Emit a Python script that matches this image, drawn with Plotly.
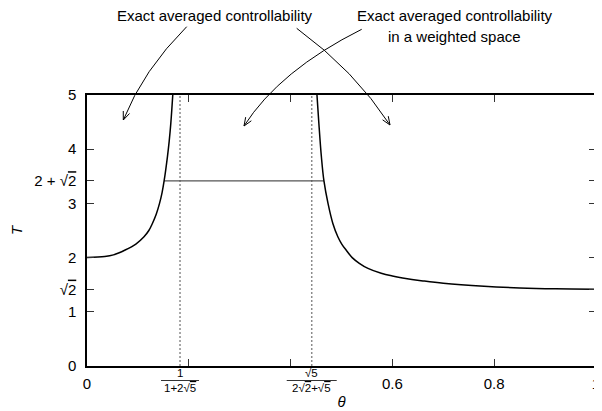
import math
import plotly.graph_objects as go

# ---------------- data ----------------
theta_left = [0.0, 0.035, 0.052, 0.075, 0.096, 0.112, 0.1215, 0.1285, 0.136,
              0.1425, 0.1475, 0.1515, 0.158, 0.1615, 0.1647, 0.1685]
T_left = [2.0, 2.02, 2.05, 2.14, 2.25, 2.385, 2.5, 2.63, 2.8,
          3.0, 3.2, 3.414, 3.86, 4.15, 4.48, 5.0]

theta_right = [0.4518, 0.4555, 0.4605, 0.4655, 0.4735, 0.483, 0.4928, 0.5005, 0.509,
               0.521, 0.535, 0.552, 0.578, 0.60, 0.62, 0.66, 0.70, 0.78, 0.85, 0.92, 1.0]
T_right = [5.0, 4.48, 3.86, 3.414, 3.0, 2.63, 2.385, 2.25, 2.14,
           2.0, 1.895, 1.80, 1.71, 1.66, 1.625, 1.57, 1.525, 1.47, 1.44, 1.423, 1.414]

SQ2 = math.sqrt(2)
SQ5 = math.sqrt(5)
theta_c1 = 1 / (1 + 2 * SQ5)
theta_c2 = SQ5 / (2 * SQ2 + SQ5)

plateau_theta = [0.1515, 0.4655]
plateau_T = [2 + SQ2, 2 + SQ2]

x_tickvals = [0, 0.2, 0.4, 0.6, 0.8, 1]
x_ticktext = ["0", "", "", "0.6", "0.8", "1"]
OL = '<span style="text-decoration:overline">{}</span>'
y_tickvals = [0, 1, SQ2, 2, 3, 2 + SQ2, 4, 5]
y_ticktext = ["0", "1", "√" + OL.format("2"), "2", "3", "2 + √" + OL.format("2"), "4", "5"]

label_left = "Exact averaged controllability"
label_right = ["Exact averaged controllability", "in a weighted space"]

# ---------------- layout geometry ----------------
# the page body has an 8px margin, so figure coords = window coords - 8
OFF = 8
W, H = 602 - OFF, 411 - OFF
X0, X1, Y0, Y1 = 87, 596, 95, 366          # plot box in window pixels
L, R, TOP, B = X0 - OFF, W - (X1 - OFF), Y0 - OFF, H - (Y1 - OFF)
PW, PH = X1 - X0, Y1 - Y0
FONT = "Liberation Sans"


def px(x):
    return (x - X0) / PW


def py(y):
    return (Y1 - y) / PH


fig = go.Figure()

# dotted critical lines
for c in (theta_c1, theta_c2):
    fig.add_trace(go.Scatter(x=[c, c], y=[0, 5], mode="lines",
                             line=dict(color="#8c8c8c", width=1.5, dash="2px,2px"),
                             hoverinfo="skip"))

# plateau
fig.add_trace(go.Scatter(x=plateau_theta, y=plateau_T, mode="lines",
                         line=dict(color="#555555", width=1.3)))

# curves
fig.add_trace(go.Scatter(x=theta_left, y=T_left, mode="lines",
                         line=dict(color="black", width=1.5, shape="spline", smoothing=1)))
fig.add_trace(go.Scatter(x=theta_right, y=T_right, mode="lines",
                         line=dict(color="black", width=1.5, shape="spline", smoothing=1)))

shapes = []
annotations = []


# fraction tick labels
def fraction(xc, num, den, half_w):
    annotations.append(dict(x=xc, y=py(373.0), xref="paper", yref="paper", text=num,
                            showarrow=False, font=dict(family=FONT, size=11.5, color="black"),
                            xanchor="center", yanchor="middle"))
    annotations.append(dict(x=xc, y=py(388.0), xref="paper", yref="paper", text=den,
                            showarrow=False, font=dict(family=FONT, size=11.5, color="black"),
                            xanchor="center", yanchor="middle"))
    shapes.append(dict(type="line", xref="paper", yref="paper",
                       x0=xc - half_w / PW, x1=xc + half_w / PW, y0=py(380.5), y1=py(380.5),
                       line=dict(color="black", width=0.8)))


fraction(theta_c1, "1", "1+2√" + OL.format("5"), 19)
fraction(theta_c2, "√" + OL.format("5"), "2√" + OL.format("2") + "+√" + OL.format("5"), 25)

# top labels
annotations.append(dict(x=px(215), y=py(15), xref="paper", yref="paper", text=label_left,
                        showarrow=False, font=dict(family=FONT, size=15, color="black"),
                        xanchor="center", yanchor="middle"))
annotations.append(dict(x=px(455), y=py(15), xref="paper", yref="paper", text=label_right[0],
                        showarrow=False, font=dict(family=FONT, size=15, color="black"),
                        xanchor="center", yanchor="middle"))
annotations.append(dict(x=px(454), y=py(36.5), xref="paper", yref="paper", text=label_right[1],
                        showarrow=False, font=dict(family=FONT, size=15, color="black"),
                        xanchor="center", yanchor="middle"))


# curved arrows (pixel geometry -> paper)
def curved_arrow(p0, c, p1, head=9.0, ang=22):
    path = "M {} {} Q {} {} {} {}".format(px(p0[0]), py(p0[1]), px(c[0]), py(c[1]),
                                         px(p1[0]), py(p1[1]))
    shapes.append(dict(type="path", xref="paper", yref="paper", path=path,
                       line=dict(color="black", width=1)))
    dx, dy = p1[0] - c[0], p1[1] - c[1]
    n = math.hypot(dx, dy)
    dx, dy = dx / n, dy / n
    pts = []
    for s in (-1, 1):
        a = math.radians(ang) * s
        rx = dx * math.cos(a) - dy * math.sin(a)
        ry = dx * math.sin(a) + dy * math.cos(a)
        pts.append((p1[0] - head * rx, p1[1] - head * ry))
    hp = "M {} {} L {} {} L {} {}".format(px(pts[0][0]), py(pts[0][1]), px(p1[0]), py(p1[1]),
                                        px(pts[1][0]), py(pts[1][1]))
    shapes.append(dict(type="path", xref="paper", yref="paper", path=hp,
                       line=dict(color="black", width=1)))


curved_arrow((186.7, 26.7), (143.3, 70), (123.3, 120))
curved_arrow((361.7, 29.3), (279.7, 70.3), (244, 126))
curved_arrow((296.7, 28.3), (354.6, 70.6), (390, 125))

fig.update_layout(
    width=W, height=H,
    margin=dict(l=L, r=R, t=TOP, b=B, autoexpand=False),
    paper_bgcolor="white", plot_bgcolor="white",
    showlegend=False,
    font=dict(family=FONT, size=15, color="black"),
    shapes=shapes, annotations=annotations,
    xaxis=dict(range=[0, 1], tickvals=x_tickvals, ticktext=x_ticktext,
               ticks="inside", ticklen=7, tickwidth=1, tickcolor="#333",
               showline=True, linecolor="black", linewidth=1.5, mirror="ticks",
               showgrid=False, zeroline=False, tickfont=dict(size=15),
               ticklabelstandoff=3, automargin=False,
               title=dict(text="<i>θ</i>", standoff=6, font=dict(size=15))),
    yaxis=dict(range=[0, 5], tickvals=y_tickvals, ticktext=y_ticktext,
               ticks="inside", ticklen=7, tickwidth=1, tickcolor="#333",
               showline=True, linecolor="black", linewidth=1.5, mirror="ticks",
               showgrid=False, zeroline=False, tickfont=dict(size=15),
               ticklabelstandoff=6, automargin=False,
               title=dict(text="<i>T</i>", standoff=10, font=dict(size=15))),
)

fig.write_html("out.html")
